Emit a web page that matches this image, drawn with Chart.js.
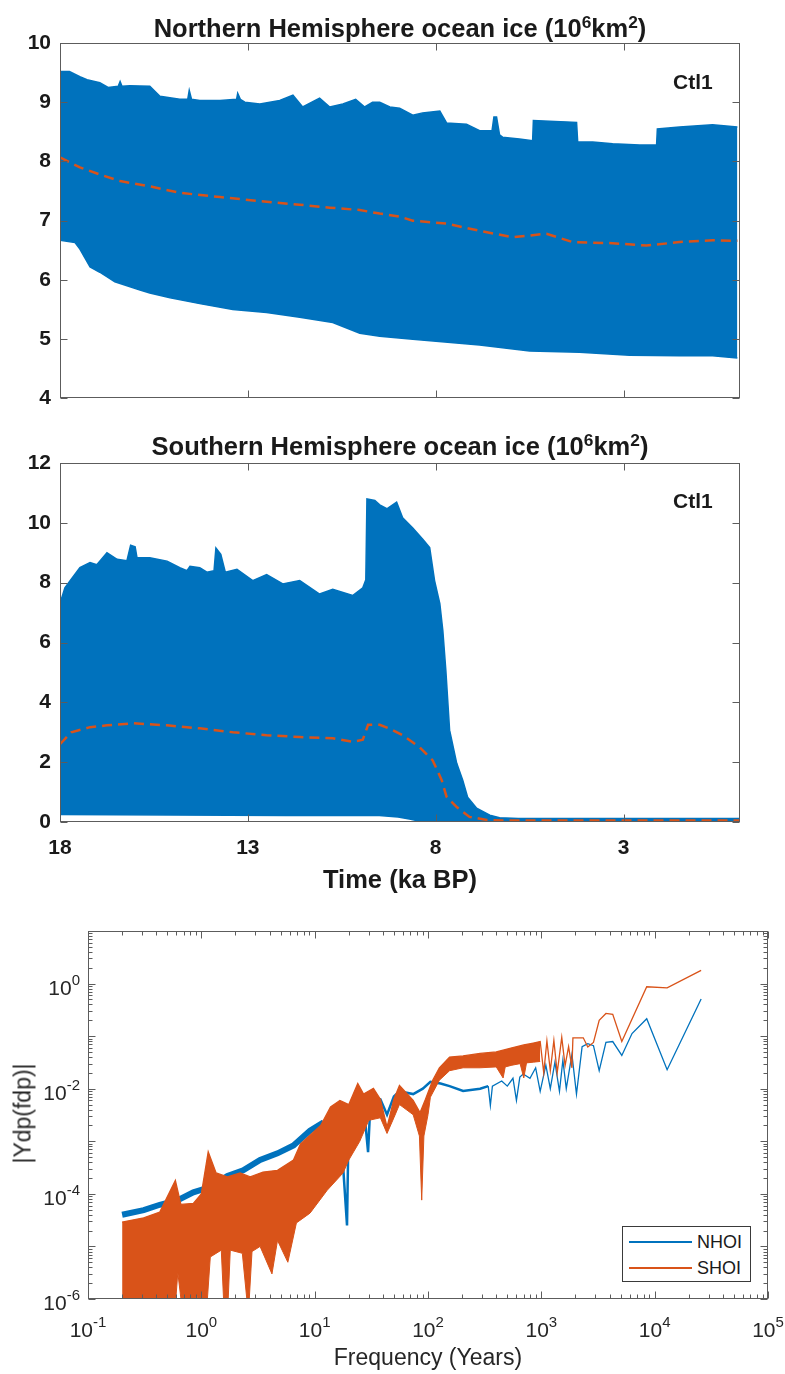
<!DOCTYPE html>
<html>
<head>
<meta charset="utf-8">
<script src="https://cdn.jsdelivr.net/npm/chart.js@4"></script>
<style>
  body { margin: 0; background: #fff; }
  #page { position: relative; width: 785px; height: 1374px; font-family: "Liberation Sans", Arial, sans-serif; color: #1a1a1a; overflow: hidden; }
  canvas { position: absolute; left: 0; }
  .ttl { position: absolute; left: 60px; width: 680px; text-align: center; font-weight: bold; font-size: 25.5px; line-height: 24px; white-space: nowrap; }
  .ttl sup { font-size: 0.68em; vertical-align: 0.5em; line-height: 0; }
  .ctl { position: absolute; left: 673px; font-weight: bold; font-size: 21px; line-height: 21px; }
  .xt { position: absolute; left: 60px; width: 680px; top: 867px; text-align: center; font-weight: bold; font-size: 25.5px; line-height: 24px; }
  .fx { position: absolute; left: 88px; width: 680px; top: 1346px; text-align: center; font-size: 23px; line-height: 23px; color: #262626; }
  .yl { position: absolute; left: -77px; width: 200px; top: 1102px; height: 23px; line-height: 23px; text-align: center; font-size: 23px; color: #262626; transform: rotate(-90deg); }
  .leg { position: absolute; left: 622px; top: 1226px; width: 129px; height: 56px; box-sizing: border-box; border: 1px solid #3a3a3a; background: #fff; }
  .leg .ln { position: absolute; left: 6px; width: 63px; height: 1.5px; }
  .leg .lb { position: absolute; left: 74px; font-size: 18px; line-height: 18px; color: #1a1a1a; }
</style>
</head>
<body>
<div id="page">
  <canvas id="c1" width="785" height="420" style="top:0"></canvas>
  <div class="ttl" style="top:16px">Northern Hemisphere ocean ice (10<sup>6</sup>km<sup>2</sup>)</div>
  <div class="ctl" style="top:71px">Ctl1</div>

  <canvas id="c2" width="785" height="440" style="top:430px"></canvas>
  <div class="ttl" style="top:434px">Southern Hemisphere ocean ice (10<sup>6</sup>km<sup>2</sup>)</div>
  <div class="ctl" style="top:490px">Ctl1</div>
  <div class="xt">Time (ka BP)</div>

  <canvas id="c3" width="785" height="474" style="top:900px"></canvas>
  <div class="yl">|Ydp(fdp)|</div>
  <div class="fx">Frequency (Years)</div>
  <div class="leg">
    <div class="ln" style="top:14px;background:#0072BD"></div>
    <div class="lb" style="top:6px">NHOI</div>
    <div class="ln" style="top:40px;background:#D95319"></div>
    <div class="lb" style="top:32px">SHOI</div>
  </div>
</div>

<script>
// time axis (ka BP) tick positions
const timeTicks = [18, 13, 8, 3];

// Northern Hemisphere ocean ice: envelope of the seasonal cycle and mean, [ka BP, 10^6 km2]
const nhMax = [[18, 9.15], [17.97, 9.52], [17.75, 9.52], [17.47, 9.43], [17.28, 9.38], [16.94, 9.33], [16.72, 9.25],
  [16.45, 9.27], [16.4, 9.35], [16.35, 9.27], [16.14, 9.28], [15.61, 9.27], [15.34, 9.1], [14.81, 9.05], [14.6, 9.05],
  [14.56, 9.2], [14.5, 9.05], [14.28, 9.03], [13.74, 9.03], [13.3, 9.05], [13.27, 9.15], [13.2, 9.05], [13.08, 9.0],
  [12.68, 8.97], [12.15, 9.03], [11.8, 9.12], [11.54, 8.92], [11.09, 9.07], [10.82, 8.92], [10.47, 8.97], [10.13, 9.05],
  [9.89, 8.92], [9.68, 9.0], [9.49, 9.0], [9.22, 8.92], [8.96, 8.9], [8.61, 8.78], [8.35, 8.82], [7.89, 8.85],
  [7.71, 8.65], [7.18, 8.63], [6.83, 8.52], [6.5, 8.52], [6.45, 8.75], [6.38, 8.75], [6.3, 8.45], [6.22, 8.41],
  [5.77, 8.38], [5.42, 8.35], [5.4, 8.69], [4.25, 8.66], [4.22, 8.33], [3.82, 8.33], [3.29, 8.3], [2.57, 8.28],
  [2.12, 8.28], [2.1, 8.55], [1.51, 8.58], [0.63, 8.62], [-0.03, 8.58]];
const nhMin = [[18, 6.67], [17.6, 6.63], [17.47, 6.52], [17.2, 6.22], [16.94, 6.13], [16.54, 5.97], [15.87, 5.83],
  [15.61, 5.78], [15.07, 5.7], [14.28, 5.6], [13.4, 5.5], [12.5, 5.45], [11.62, 5.37], [10.74, 5.28], [10.02, 5.1],
  [9.49, 5.05], [8.61, 5.0], [6.83, 4.9], [5.5, 4.8], [4.17, 4.78], [2.84, 4.73], [1.51, 4.72], [0.63, 4.72], [-0.03, 4.68]];
const nhMean = [[18, 8.07], [17.47, 7.9], [16.94, 7.78], [16.4, 7.67], [15.61, 7.58], [14.81, 7.47], [13.74, 7.4],
  [12.68, 7.33], [11.62, 7.27], [10.82, 7.22], [10.02, 7.18], [9.49, 7.12], [8.96, 7.07], [8.61, 7.0], [7.71, 6.95],
  [6.83, 6.83], [5.95, 6.72], [5.05, 6.78], [4.36, 6.64], [3.29, 6.62], [2.39, 6.58], [1.51, 6.64], [0.63, 6.67], [-0.03, 6.66]];

// Southern Hemisphere ocean ice
const shMax = [[18, 7.3], [17.87, 7.83], [17.73, 8.07], [17.47, 8.5], [17.2, 8.67], [17.02, 8.6], [16.75, 9.0],
  [16.48, 8.78], [16.22, 8.73], [16.12, 9.25], [16.0, 9.2], [15.95, 8.83], [15.61, 8.83], [15.15, 8.72], [14.81, 8.5],
  [14.62, 8.4], [14.54, 8.55], [14.28, 8.5], [14.09, 8.35], [13.9, 8.4], [13.85, 9.16], [13.72, 8.95], [13.6, 8.35],
  [13.29, 8.45], [12.87, 8.07], [12.5, 8.27], [12.07, 7.96], [11.62, 8.07], [11.09, 7.62], [10.74, 7.78], [10.21, 7.57],
  [9.94, 7.83], [9.86, 8.1], [9.83, 10.8], [9.62, 10.75], [9.49, 10.6], [9.3, 10.47], [9.04, 10.69], [8.88, 10.17],
  [8.61, 9.83], [8.35, 9.46], [8.16, 9.17], [8.03, 8.07], [7.89, 7.3], [7.81, 6.4], [7.73, 5.07], [7.63, 3.07],
  [7.44, 1.96], [7.28, 1.4], [7.15, 0.83], [6.91, 0.46], [6.56, 0.23], [6.3, 0.14], [5.8, 0.12], [-0.08, 0.12]];
const shMin = [[18, 0.25], [12, 0.22], [9.5, 0.22], [9.0, 0.17], [8.7, 0.1], [8.4, 0.02], [-0.08, 0.0]];
const shMean = [[18, 2.6], [17.7, 3.0], [17.2, 3.17], [16.75, 3.23], [16.06, 3.3], [15.15, 3.23], [14.28, 3.13],
  [13.4, 3.0], [12.5, 2.9], [11.62, 2.84], [10.74, 2.8], [10.21, 2.68], [9.94, 2.75], [9.8, 3.25], [9.49, 3.25],
  [9.22, 3.12], [8.88, 2.9], [8.43, 2.5], [8.08, 2.06], [7.84, 1.4], [7.71, 0.84], [7.44, 0.5], [7.1, 0.17],
  [6.64, 0.07], [6.2, 0.05], [-0.08, 0.05]];

// spectra |Ydp(fdp)| against frequency
const nhoi = [[0.2, 4.0e-5], [0.31, 4.9e-5], [0.43, 6.2e-5], [0.62, 7.6e-5], [0.85, 1.07e-4], [1.2, 1.35e-4],
  [1.7, 2.2e-4], [2.34, 2.8e-4], [3.3, 4.4e-4], [4.7, 5.9e-4], [6.5, 8.3e-4], [9.1, 1.6e-3],
  [12, 2.3e-3], [16.6, 3.4e-3], [19.3, 2.5e-5], [20, 3.8e-3], [24, 4.7e-3], [27, 5.2e-3],
  [29.6, 6.2e-4], [31, 5.0e-3], [33, 6.9e-3], [38, 6.3e-3], [43.5, 3.2e-3], [50, 7.1e-3], [56, 8.9e-3], [74, 7.9e-3],
  [90, 1.0e-2], [105, 1.35e-2], [129, 1.26e-2], [155, 1.12e-2], [204, 9.1e-3], [288, 1.0e-2], [340, 1.12e-2],
  [355, 4.8e-3], [370, 1.12e-2], [447, 1.4e-2], [501, 1.12e-2], [562, 1.58e-2], [603, 6.0e-3], [646, 1.66e-2],
  [692, 1.9e-2], [794, 1.58e-2], [891, 2.5e-2], [977, 8.9e-3], [1096, 2.8e-2], [1200, 1.0e-2], [1318, 3.2e-2],
  [1445, 8.9e-3], [1549, 3.5e-2], [1660, 1.0e-2], [1862, 4.5e-2], [2042, 7.9e-3], [2290, 6.3e-2], [2570, 7.2e-2],
  [2884, 6.6e-2], [3240, 2.2e-2], [3715, 7.6e-2], [4266, 7.9e-2], [5130, 4.3e-2], [6310, 0.112], [8511, 0.214],
  [12882, 2.3e-2], [25704, 0.51]];
const shoiTop = [[0.2, 2.9e-5], [0.31, 3.5e-5], [0.43, 4.5e-5], [0.59, 1.8e-4], [0.66, 6.3e-5], [0.85, 6.6e-5],
  [1.0, 1.0e-4], [1.15, 6.3e-4], [1.35, 2.5e-4], [1.7, 2.1e-4], [2.2, 2.5e-4], [2.7, 2.1e-4], [3.5, 2.6e-4],
  [4.7, 2.8e-4], [6.5, 4.4e-4], [7.5, 8.9e-4], [11.3, 2.0e-3], [13.8, 4.5e-3], [16.7, 6.0e-3], [20, 5.0e-3], [24, 1.26e-2],
  [27, 7.9e-3], [33, 1.02e-2], [38, 6.3e-3], [43.5, 1.86e-3], [50, 6.3e-3], [56, 1.15e-2], [74, 6.0e-3], [85, 3.5e-3],
  [95, 6.3e-3], [110, 1.45e-2], [126, 2.5e-2], [155, 4.0e-2], [204, 4.2e-2], [288, 4.7e-2], [400, 5.0e-2],
  [550, 6.0e-2], [700, 6.8e-2], [850, 7.4e-2], [977, 7.9e-2], [1050, 2.0e-2], [1120, 8.1e-2], [1200, 2.2e-2],
  [1290, 8.3e-2], [1380, 2.0e-2], [1514, 9.5e-2], [1620, 2.75e-2], [1740, 6.3e-2], [1862, 2.5e-2], [1900, 9.3e-2],
  [2344, 9.3e-2], [2570, 6.2e-2], [2884, 7.6e-2], [3240, 0.2], [3715, 0.27], [4266, 0.26], [5130, 7.9e-2],
  [8511, 0.87], [12882, 0.83], [25704, 1.78]];
const shoiBottom = [[0.2, 1e-7], [0.55, 1e-7], [0.62, 3.2e-6], [0.75, 1e-7], [0.91, 1.3e-6], [1.05, 1e-7],
  [1.2, 6.3e-6], [1.5, 8.5e-6], [1.65, 1e-7], [1.8, 8.5e-6], [2.3, 7.4e-6], [2.6, 5e-7], [2.8, 8e-6], [3.3, 1.0e-5],
  [4.2, 3e-6], [4.7, 1.3e-5], [5.8, 5e-6], [6.9, 2.8e-5], [9.1, 4.3e-5], [12.9, 1.17e-4], [17.8, 2.5e-4], [20, 4.4e-4],
  [25, 1.0e-3], [30, 2.5e-3], [38, 2.8e-3], [43.5, 1.41e-3], [50, 2.8e-3], [56, 5.0e-3], [74, 3.2e-3], [84, 1.26e-3],
  [88, 7.6e-5], [92, 1.26e-3], [100, 3.2e-3], [105, 6.9e-3], [126, 1.45e-2], [155, 2.2e-2], [204, 2.5e-2],
  [288, 2.5e-2], [400, 2.6e-2], [460, 1.6e-2], [480, 2.6e-2], [550, 2.8e-2], [650, 3.0e-2], [700, 1.6e-2],
  [740, 3.1e-2], [850, 3.2e-2], [977, 3.3e-2]];

const blue = '#0072BD';
const orange = '#D95319';
const font = '"Liberation Sans", Arial, sans-serif';
const pts = a => a.map(p => ({ x: p[0], y: p[1] }));

// MATLAB style box with inward ticks, plus 10^n labels for log axes
function decadeTicks(min, max) {
  const major = [], minor = [];
  for (let e = Math.round(Math.log10(min)); e <= Math.round(Math.log10(max)); e++) {
    major.push(Math.pow(10, e));
    for (let k = 2; k < 10; k++) {
      const v = k * Math.pow(10, e);
      if (v < max) minor.push(v);
    }
  }
  return { major, minor };
}

function drawPower(ctx, e, x, y, align) {
  ctx.font = '21px ' + font;
  const wb = ctx.measureText('10').width;
  ctx.font = '15px ' + font;
  const we = ctx.measureText(String(e)).width;
  const x0 = align === 'right' ? x - wb - we : x - (wb + we) / 2;
  ctx.textAlign = 'left';
  ctx.textBaseline = 'alphabetic';
  ctx.font = '21px ' + font;
  ctx.fillText('10', x0, y);
  ctx.font = '15px ' + font;
  ctx.fillText(String(e), x0 + wb, y - 10);
}

const boxPlugin = {
  id: 'box',
  afterDraw(chart, args, o) {
    const { ctx, chartArea: a } = chart;
    const xs = chart.scales.x, ys = chart.scales.y;
    const L = Math.round(a.left) + 0.5, R = Math.round(a.right) - 0.5;
    const T = Math.round(a.top) + 0.5, B = Math.round(a.bottom) - 0.5;
    ctx.save();
    ctx.strokeStyle = '#5c5c5c';
    ctx.lineWidth = 1;
    ctx.strokeRect(L, T, R - L, B - T);

    const xMarks = (vals, len) => vals.forEach(v => {
      const p = Math.round(xs.getPixelForValue(v)) + 0.5;
      ctx.moveTo(p, T); ctx.lineTo(p, T + len);
      ctx.moveTo(p, B); ctx.lineTo(p, B - len);
    });
    const yMarks = (vals, len) => vals.forEach(v => {
      const p = Math.round(ys.getPixelForValue(v)) + 0.5;
      ctx.moveTo(L, p); ctx.lineTo(L + len, p);
      ctx.moveTo(R, p); ctx.lineTo(R - len, p);
    });

    ctx.beginPath();
    if (o.log) {
      const xt = decadeTicks(xs.min, xs.max), yt = decadeTicks(ys.min, ys.max);
      xMarks(xt.major, 7); xMarks(xt.minor, 4);
      yMarks(yt.major, 7); yMarks(yt.minor, 4);
    } else {
      xMarks(xs.ticks.map(t => t.value), 7);
      yMarks(ys.ticks.map(t => t.value), 7);
    }
    ctx.stroke();

    if (o.log) {
      ctx.fillStyle = '#262626';
      o.yLabels.forEach(e => drawPower(ctx, e, a.left - 8, ys.getPixelForValue(Math.pow(10, e)) + 11, 'right'));
      o.xLabels.forEach(e => drawPower(ctx, e, xs.getPixelForValue(Math.pow(10, e)), a.bottom + 38, 'center'));
    }
    ctx.restore();
  }
};

function timeChart(id, maxData, minData, meanData, yMin, yMax, yStep, showX, xHeight, padTop) {
  return new Chart(document.getElementById(id), {
    type: 'line',
    data: {
      datasets: [
        { data: pts(meanData), borderColor: orange, borderWidth: 2.5, borderDash: [10, 6], fill: false, order: 0 },
        { data: pts(maxData), borderColor: blue, borderWidth: 1.5, fill: false, order: 1 },
        { data: pts(minData), borderColor: blue, borderWidth: 1.5, backgroundColor: blue, fill: '-1', order: 1 }
      ]
    },
    options: {
      responsive: false,
      animation: false,
      events: [],
      layout: { padding: { top: padTop, right: 45, left: 0, bottom: 0 } },
      elements: { point: { radius: 0 }, line: { tension: 0 } },
      plugins: { legend: { display: false }, tooltip: { enabled: false }, box: { log: false } },
      scales: {
        x: {
          type: 'linear', reverse: true, min: -0.1, max: 18,
          grid: { display: false, drawTicks: false }, border: { display: false },
          afterBuildTicks: s => { s.ticks = timeTicks.map(v => ({ value: v })); },
          afterFit: s => { s.height = xHeight; },
          ticks: { display: showX, padding: 14, maxRotation: 0, autoSkip: false, color: '#1a1a1a',
            font: { family: font, size: 21, weight: 'bold' } }
        },
        y: {
          min: yMin, max: yMax,
          grid: { display: false, drawTicks: false }, border: { display: false },
          afterFit: s => { s.width = 60; },
          ticks: { stepSize: yStep, padding: 9, color: '#1a1a1a', font: { family: font, size: 21, weight: 'bold' } }
        }
      }
    },
    plugins: [boxPlugin]
  });
}

timeChart('c1', nhMax, nhMin, nhMean, 4, 10, 1, false, 17, 43);
timeChart('c2', shMax, shMin, shMean, 0, 12, 2, true, 48, 33);

new Chart(document.getElementById('c3'), {
  type: 'line',
  data: {
    datasets: [
      { label: 'NHOI', data: pts(nhoi), borderColor: blue, borderWidth: 1.3, fill: false, order: 2,
        segment: { borderWidth: c => c.p0.parsed.x < 12 ? 6 : (c.p0.parsed.x < 300 ? 2.5 : 1.3) } },
      { label: 'SHOI', data: pts(shoiTop), borderColor: orange, borderWidth: 1.3, fill: false, order: 1 },
      { label: 'SHOI band', data: pts(shoiBottom), borderColor: orange, borderWidth: 1, backgroundColor: orange, fill: 1, order: 1 }
    ]
  },
  options: {
    responsive: false,
    animation: false,
    events: [],
    layout: { padding: { top: 31, right: 17, left: 0, bottom: 0 } },
    elements: { point: { radius: 0 }, line: { tension: 0 } },
    plugins: {
      legend: { display: false }, tooltip: { enabled: false },
      box: { log: true, yLabels: [-6, -4, -2, 0], xLabels: [-1, 0, 1, 2, 3, 4, 5] }
    },
    scales: {
      x: {
        type: 'logarithmic', min: 0.1, max: 1e5,
        grid: { display: false, drawTicks: false }, border: { display: false },
        ticks: { display: false },
        afterFit: s => { s.height = 75; }
      },
      y: {
        type: 'logarithmic', min: 1e-6, max: 10,
        grid: { display: false, drawTicks: false }, border: { display: false },
        ticks: { display: false },
        afterFit: s => { s.width = 88; }
      }
    }
  },
  plugins: [boxPlugin]
});
</script>
</body>
</html>
